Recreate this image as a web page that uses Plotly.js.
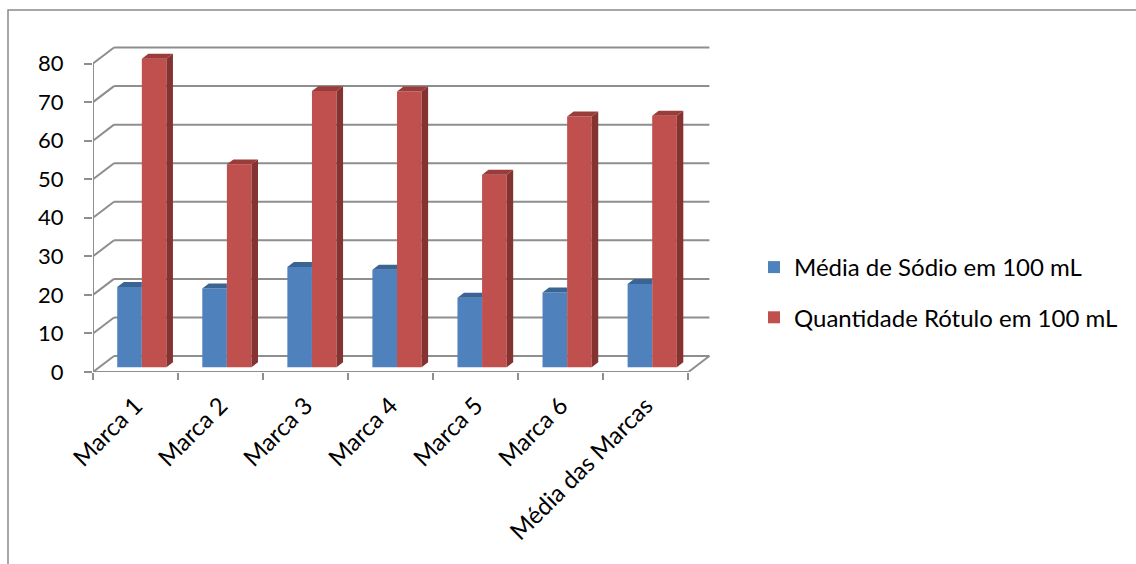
<!DOCTYPE html>
<html>
<head>
<meta charset="utf-8">
<script src="https://cdn.plot.ly/plotly-3.0.1.min.js"></script>
<style>html,body{margin:0;padding:0;background:#fff;}#chart{width:1136px;height:564px;}</style>
</head>
<body>
<div id="chart"></div>
<script>
// ---- data ----
var categories = ["Marca 1", "Marca 2", "Marca 3", "Marca 4", "Marca 5", "Marca 6", "Média das Marcas"];
var sodioMedia = [20.8, 20.4, 26.0, 25.3, 18.0, 19.4, 21.6];
var rotuloQtd = [80.0, 52.6, 71.6, 71.5, 49.9, 65.0, 65.2];
var seriesNames = ["Média de Sódio em 100 mL", "Quantidade Rótulo em 100 mL"];
var yTickVals = [0, 10, 20, 30, 40, 50, 60, 70, 80];

// ---- geometry / style ----
var W = 1136, H = 564;
var mL = 93, mR = 421, mT = 30, mB = 192;
var plotW = W - mL - mR, plotH = H - mT - mB;
var pxPerCat = 85.06, pxPerUnit = 3.856;
var xRange = [-0.5, -0.5 + plotW / pxPerCat];
var yRange = [0, plotH / pxPerUnit];
var depthX = 21 / pxPerCat;     // wall depth in x data units
var depthY = 16 / pxPerUnit;    // wall depth in y data units
var f0 = 0.30, f1 = 0.61;       // bar depth placement (fraction of wall depth)
var barW = 24.6 / pxPerCat;
var gridColor = "#8e8e8e";
var colBlue = "#4f81bd", colBlueTop = "#3a6494";
var colRed = "#c0504d", colRedSide = "#843331", colRedTop = "#9a3c3a";
var fontFam = "Lato, 'Open Sans', sans-serif";

var n = categories.length;
var idx = categories.map(function (_, i) { return i; });
var bounds = [];
for (var b = 0; b <= n; b++) bounds.push(b - 0.5);

// ---- gridlines / walls as shapes below the traces ----
var shapes = [];
function line(x0, y0, x1, y1) {
  shapes.push({type: "line", xref: "x", yref: "y", x0: x0, y0: y0, x1: x1, y1: y1,
    layer: "below", line: {color: gridColor, width: 2}});
}
var xL = bounds[0], xR = bounds[n];
yTickVals.forEach(function (v) {
  line(xL, v, xL + depthX, v + depthY);                  // side wall diagonal
  line(xL + depthX, v + depthY, xR + depthX, v + depthY); // back wall
});
// y axis line and floor front / right edge
line(xL, 0, xL, yTickVals[yTickVals.length - 1]);
line(xL, 0, xR, 0);
line(xR, 0, xR + depthX, depthY);

// chart-area border (paper coordinates from pixels)
function pxX(p) { return (p - mL) / plotW; }
function pxY(p) { return 1 - (p - mT) / plotH; }
shapes.push({type: "path", xref: "paper", yref: "paper", layer: "above",
  path: "M" + pxX(8) + "," + pxY(600) + " L" + pxX(8) + "," + pxY(10) + " L" + pxX(1140) + "," + pxY(10),
  line: {color: "#8a8a8a", width: 1.5}});

// ---- bars ----
var sx = f0 * depthX, base = f0 * depthY;
var ddx = (f1 - f0) * depthX, ddy = (f1 - f0) * depthY;

var traces = [];
traces.push({type: "bar", name: seriesNames[0], x: idx, y: sodioMedia, base: base,
  offset: sx - barW, width: barW, marker: {color: colBlue, line: {width: 0}},
  legendgroup: "a", hoverinfo: "skip"});
traces.push({type: "bar", name: seriesNames[1], x: idx, y: rotuloQtd, base: base,
  offset: sx, width: barW, marker: {color: colRed, line: {width: 0}},
  legendgroup: "b", hoverinfo: "skip"});

// blue top faces (clipped where the red front face covers them)
var btx = [], bty = [];
sodioMedia.forEach(function (v, i) {
  var l = i + sx - barW, r = i + sx, t = base + v;
  btx.push(l, l + ddx, r, r, l, null);
  bty.push(t, t + ddy, t + ddy, t, t, null);
});
traces.push({type: "scatter", mode: "lines", x: btx, y: bty, fill: "toself",
  fillcolor: colBlueTop, line: {width: 0, color: colBlueTop}, showlegend: false, hoverinfo: "skip"});

// red side and top faces
var rsx = [], rsy = [], rtx = [], rty = [];
rotuloQtd.forEach(function (v, i) {
  var l = i + sx, r = i + sx + barW, t = base + v;
  rsx.push(r, r + ddx, r + ddx, r, r, null);
  rsy.push(base, base + ddy, t + ddy, t, base, null);
  rtx.push(l, l + ddx, r + ddx, r, l, null);
  rty.push(t, t + ddy, t + ddy, t, t, null);
});
traces.push({type: "scatter", mode: "lines", x: rsx, y: rsy, fill: "toself",
  fillcolor: colRedSide, line: {width: 0, color: colRedSide}, showlegend: false, hoverinfo: "skip"});
traces.push({type: "scatter", mode: "lines", x: rtx, y: rty, fill: "toself",
  fillcolor: colRedTop, line: {width: 0, color: colRedTop}, showlegend: false, hoverinfo: "skip"});

var layout = {
  width: W, height: H,
  margin: {l: mL, r: mR, t: mT, b: mB, pad: 0},
  paper_bgcolor: "#ffffff", plot_bgcolor: "rgba(0,0,0,0)",
  barmode: "overlay",
  showlegend: true,
  font: {family: fontFam, color: "#000000"},
  xaxis: {
    type: "linear", range: xRange, fixedrange: true, automargin: false,
    showgrid: false, zeroline: false, showline: false,
    tickmode: "array", tickvals: idx, ticktext: categories,
    ticks: "", tickangle: -45, ticklabelstandoff: 14,
    tickfont: {family: fontFam, size: 24, color: "#000"},
    minor: {tickmode: "array", tickvals: bounds, ticks: "outside", ticklen: 7,
      tickwidth: 2, tickcolor: gridColor, showgrid: false}
  },
  yaxis: {
    range: yRange, fixedrange: true, automargin: false,
    showgrid: false, zeroline: false, showline: false,
    tickmode: "array", tickvals: yTickVals, ticktext: yTickVals.map(String),
    ticks: "outside", ticklen: 8, tickwidth: 2, tickcolor: gridColor,
    ticklabelstandoff: 16,
    tickfont: {family: fontFam, size: 22, color: "#000"}
  },
  legend: {
    x: pxX(754), y: pxY(245), xanchor: "left", yanchor: "top",
    traceorder: "grouped", tracegroupgap: 16,
    bgcolor: "rgba(0,0,0,0)", borderwidth: 0,
    font: {family: fontFam, size: 24, color: "#000"}
  },
  shapes: shapes
};

Plotly.newPlot("chart", traces, layout, {displayModeBar: false, staticPlot: true});
</script>
</body>
</html>
